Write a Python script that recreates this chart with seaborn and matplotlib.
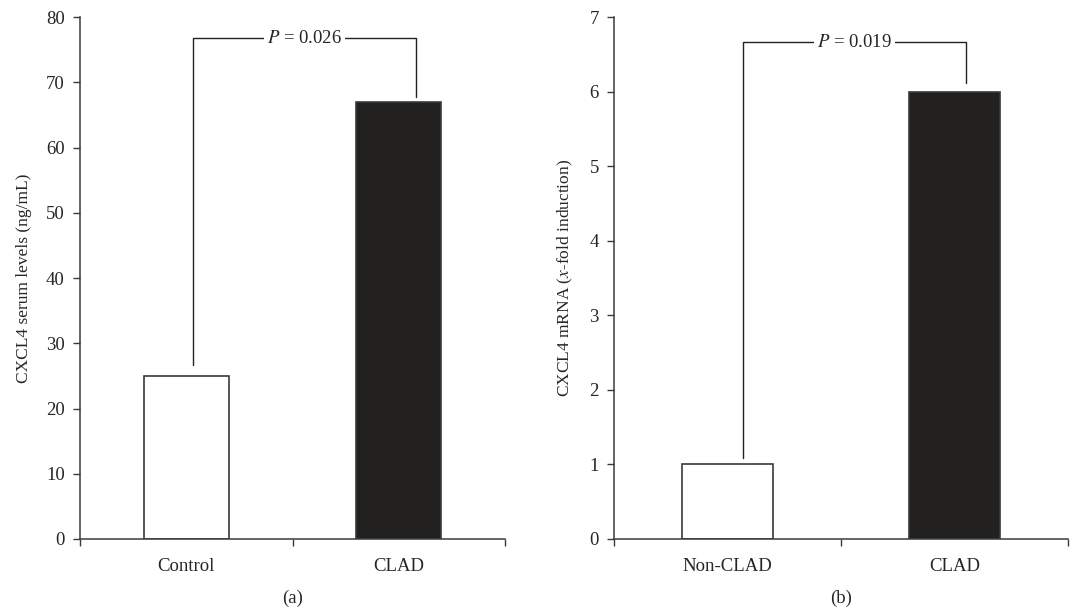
import matplotlib
matplotlib.use("Agg")
import matplotlib.pyplot as plt
import seaborn as sns
import pandas as pd

cats_a = ["Control", "CLAD"]
vals_a = [25, 67]
cats_b = ["Non-CLAD", "CLAD"]
vals_b = [1, 6]
p_a = "0.026"
p_b = "0.019"

sns.set_style("ticks")
plt.rcParams['font.family'] = ['Liberation Serif', 'DejaVu Serif']
plt.rcParams['mathtext.fontset'] = 'stix'

fig = plt.figure(figsize=(10.78, 6.12), dpi=100)
ax1 = fig.add_axes([0.0742, 0.1193, 0.3943, 0.8527])
ax2 = fig.add_axes([0.5696, 0.1193, 0.4211, 0.8527])

edge = "#3a3a3a"
dark = "#231f20"
fs = 13.5

def draw(ax, cats, vals, ymax, ylabel, p, brk, sub):
    df = pd.DataFrame({"cat": cats, "val": vals})
    sns.barplot(data=df, x="cat", y="val", ax=ax, width=0.4,
                palette=["white", dark], hue="cat", legend=False,
                edgecolor=edge, linewidth=1.2)
    ax.set_xlim(-0.5, 1.5)
    ax.set_ylim(0, ymax)
    ax.set_yticks(range(0, ymax + 1, 10 if ymax > 10 else 1))
    ax.set_xlabel(sub, fontsize=fs, labelpad=10)
    ax.set_ylabel(ylabel, fontsize=12.5, labelpad=10)
    ax.tick_params(axis='x', which='major', length=0, labelsize=fs, pad=14)
    ax.set_xticks([-0.5, 0.5, 1.5], minor=True)
    ax.tick_params(axis='x', which='minor', length=5, width=1, color=edge, direction='out')
    ax.tick_params(axis='y', length=5, width=1, color=edge, labelsize=fs, direction='out', pad=6)
    for s in ["top", "right"]:
        ax.spines[s].set_visible(False)
    for s in ["left", "bottom"]:
        ax.spines[s].set_color(edge)
        ax.spines[s].set_linewidth(1.1)
    x0, x1, ylo, ytop, yr = brk
    ax.plot([x0, x0, x1, x1], [ylo, ytop, ytop, yr], color="#222", lw=1, clip_on=False)
    xm = (x0 + x1) / 2
    ax.text(xm, ytop, r"$P$ = " + p, ha="center", va="center", fontsize=fs,
            bbox=dict(facecolor="white", edgecolor="none", pad=2))

draw(ax1, cats_a, vals_a, 80, "CXCL4 serum levels (ng/mL)", p_a,
     (0.033, 1.08, 26.7, 76.8, 67.7), "(a)")
draw(ax2, cats_b, vals_b, 7, r"CXCL4 mRNA ($x$-fold induction)", p_b,
     (0.067, 1.05, 1.09, 6.66, 6.11), "(b)")

fig.savefig("out.png", dpi=100)
